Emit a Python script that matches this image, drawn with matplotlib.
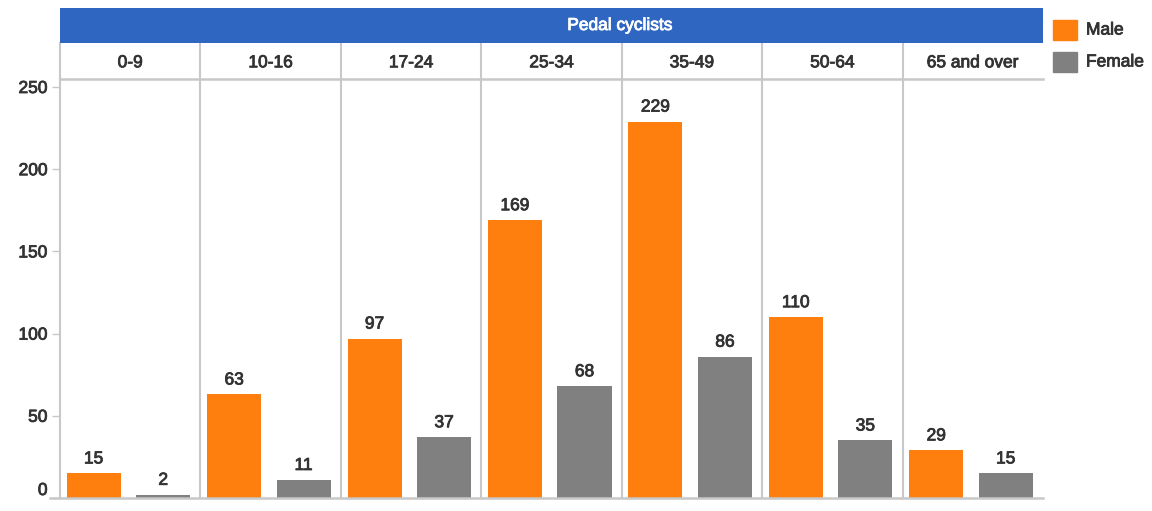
import numpy as np
import matplotlib
matplotlib.use('Agg')
import matplotlib.pyplot as plt
import matplotlib.patheffects as pe
from matplotlib.patches import Rectangle

plt.rcParams['font.family'] = ['Liberation Sans', 'DejaVu Sans']

# data
title = 'Pedal cyclists'
groups = ['0-9', '10-16', '17-24', '25-34', '35-49', '50-64', '65 and over']
male = [15, 63, 97, 169, 229, 110, 29]
female = [2, 11, 37, 68, 86, 35, 15]
yticks = [0, 50, 100, 150, 200, 250]

c_male = '#ff7f0e'
c_female = '#808080'
c_head = '#2e66c2'
c_line = '#c8c8c8'
c_text = '#333333'
fs = 12.5

W, H = 1152, 511
fig = plt.figure(figsize=(W / 100, H / 100), dpi=100)

x0, x1 = 60, 1043
y_base, y_row, y_head, y_top = 498, 79, 43, 8

def fx(px):
    return px / W

def fy(py):
    return 1 - py / H

def heavy(col):
    # reference text looks a bit heavier than a plain regular face
    return [pe.withStroke(linewidth=0.6, foreground=col)]

n = len(groups)
ax = fig.add_axes([fx(x0), fy(y_base), fx(x1 - x0), fy(y_row) - fy(y_base)])
px_per_unit = (y_base - 87) / 250.0
ax.set_ylim(0, 250 + (87 - y_row) / px_per_unit)
ax.set_xlim(0, n)

idx = np.arange(n)
bw = 0.385
bm = ax.bar(idx + 0.24, male, bw, color=c_male, zorder=3)
bf = ax.bar(idx + 0.735, female, bw, color=c_female, zorder=3)
for bars in (bm, bf):
    for b in bars:
        ax.annotate(str(int(b.get_height())), (b.get_x() + b.get_width() / 2, b.get_height()),
                    xytext=(0, 5), textcoords='offset points', ha='center', va='bottom',
                    fontsize=fs, color=c_text, path_effects=heavy(c_text))

for s in ['top', 'right', 'bottom']:
    ax.spines[s].set_visible(False)
ax.spines['left'].set_color(c_line)
ax.spines['left'].set_linewidth(1.5)
ax.set_xticks([])
ax.set_yticks(yticks)
ax.set_yticklabels([str(t) for t in yticks], fontsize=fs, color=c_text)
for t in ax.get_yticklabels():
    t.set_path_effects(heavy(c_text))
ax.tick_params(axis='y', length=6, width=1, color=c_line, pad=3)
ax.get_yticklabels()[0].set_va('bottom')
for i in range(1, n):
    ax.axvline(i, color=c_line, lw=1.5, zorder=1)
ax.plot([-10 / ((x1 - x0) / n), n], [0, 0], color=c_line, lw=1.8, clip_on=False, zorder=4)

# category row
axc = fig.add_axes([fx(x0), fy(y_row), fx(x1 - x0), fy(y_head) - fy(y_row)])
axc.set_xlim(0, n)
axc.set_ylim(0, 1)
axc.axis('off')
for i in range(n):
    axc.plot([i, i], [0, 1], color=c_line, lw=1.5, clip_on=False)
axc.plot([0, n], [0, 0], color=c_line, lw=1.8, clip_on=False)
for i, g in enumerate(groups):
    axc.text(i + 0.5, 0.45, g, ha='center', va='center', fontsize=fs, color=c_text,
             path_effects=heavy(c_text))

# header
axh = fig.add_axes([fx(x0), fy(y_head), fx(x1 - x0), fy(y_top) - fy(y_head)])
axh.set_xlim(x0, x1)
axh.set_ylim(0, 1)
axh.axis('off')
axh.add_patch(Rectangle((x0, 0), x1 - x0, 1, color=c_head))
axh.text(620, 0.5, title, ha='center', va='center', fontsize=fs, color='white',
         path_effects=heavy('white'))

# legend
for k, (lab, col) in enumerate([('Male', c_male), ('Female', c_female)]):
    yc = 30 + k * 32
    fig.patches.append(Rectangle((fx(1053), fy(yc + 10)), fx(24), fy(yc - 10) - fy(yc + 10),
                                 color=col, transform=fig.transFigure))
    fig.text(fx(1086), fy(yc), lab, ha='left', va='center', fontsize=fs, color=c_text,
             path_effects=heavy(c_text))

fig.savefig('out.png', dpi=100)
